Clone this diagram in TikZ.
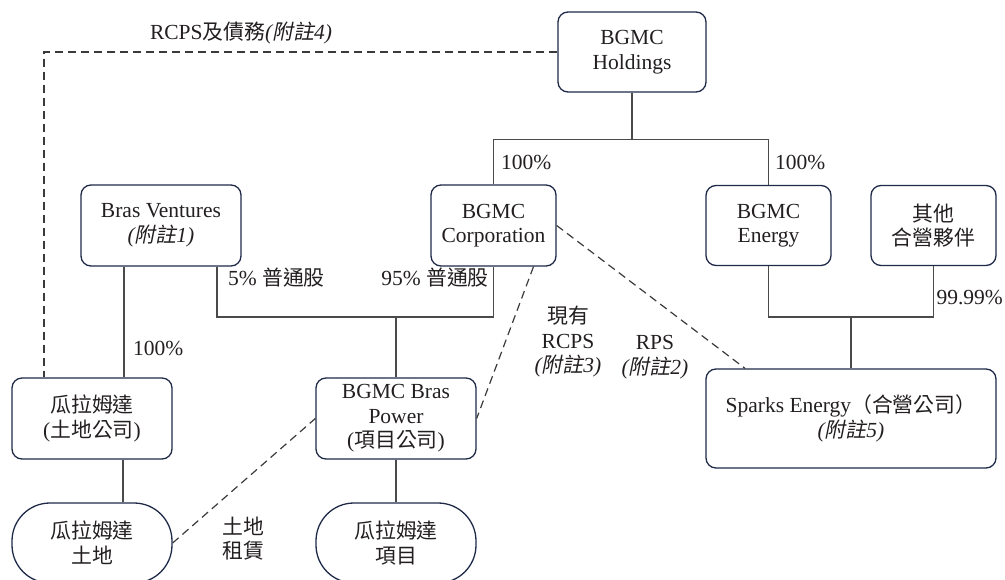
\documentclass[tikz,border=0pt]{standalone}
\usepackage{fontspec}
\setmainfont{Liberation Serif}
\newfontfamily\zhfont[Scale=0.97]{Noto Sans CJK TC}
\newfontfamily\zhitfont[Scale=0.97,FakeSlant=0.2]{Noto Sans CJK TC}
\newcommand{\zh}[1]{{\zhfont #1}}
\newcommand{\fnote}[1]{{\itshape(}{\zhitfont 附註}{\itshape #1)}}
\definecolor{navy}{HTML}{1E2A48}
\definecolor{conngray}{HTML}{4A4A4A}
\definecolor{dashgray}{HTML}{3A3A3A}
\definecolor{txt}{HTML}{231F20}
\tikzset{
  every node/.style={font=\fontsize{21.5}{24.5}\selectfont, text=txt},
  box/.style={draw=navy, line width=1.3pt, rounded corners=10pt, align=center, inner sep=0pt},
  stadium/.style={draw=navy, line width=1.3pt, rounded corners=38pt, align=center, inner sep=0pt,
    minimum width=160pt, minimum height=80pt},
  conn/.style={draw=conngray, line width=1.2pt},
  dsh/.style={draw=dashgray, line width=1.2pt, dash pattern=on 8pt off 5pt},
  lbl/.style={align=center, inner sep=0pt}
}
\begin{document}
\begin{tikzpicture}[x=1pt,y=-1pt]
\clip (0,0) rectangle (1005,580);
% boxes
\node[box, minimum width=148pt, minimum height=80pt] (hold) at (632,52) {BGMC\\Holdings};
\node[box, minimum width=160pt, minimum height=81pt] (brasv) at (161,225.5) {Bras Ventures\\\fnote{1}};
\node[box, minimum width=125pt, minimum height=81pt] (corp) at (493.5,225.5) {BGMC\\Corporation};
\node[box, minimum width=125pt, minimum height=80pt] (energy) at (768.5,225.5) {BGMC\\Energy};
\node[box, minimum width=125pt, minimum height=80pt] (jv) at (933.5,225.5) {\zh{其他}\\\zh{合營夥伴}};
\node[box, minimum width=160pt, minimum height=81pt] (landco) at (92,418.5) {\zh{瓜拉姆達}\\(\zh{土地公司})};
\node[box, minimum width=160pt, minimum height=81pt] (power) at (396,418.5) {BGMC Bras\\Power\\(\zh{項目公司})};
\node[box, minimum width=290pt, minimum height=99pt] (sparks) at (851,418.5) {Sparks Energy\zh{（合營公司）}\\\fnote{5}};
\node[stadium] (land) at (92,543) {\zh{瓜拉姆達}\\\zh{土地}};
\node[stadium] (proj) at (396,543) {\zh{瓜拉姆達}\\\zh{項目}};
% solid connectors
\draw[conn] (hold.south) -- ++(0,47) coordinate (hj);
\draw[conn] (corp.north) |- (hj) -| (energy.north);
\draw[conn] ([xshift=-37pt]brasv.south) -- ([xshift=-37pt]brasv.south |- landco.north);
\coordinate (bj) at (396,317);
\draw[conn] ([xshift=56pt]brasv.south) |- (bj) -| (corp.south);
\draw[conn] (bj) -- (power.north);
\coordinate (ej) at (851,317);
\draw[conn] (energy.south) |- (ej) -| (jv.south);
\draw[conn] (ej) -- (sparks.north);
\draw[conn] ([xshift=31pt]landco.south) -- ([xshift=31pt]land.north);
\draw[conn] (power.south) -- (proj.north);
% dashed connectors
\draw[dsh] (hold.west) -| ([xshift=-48pt]landco.north);
\draw[dsh] (corp.east) -- ([xshift=-106pt]sparks.north);
\draw[dsh] ([xshift=40pt]corp.south) -- (power.east);
\draw[dsh] (land.east) -- (power.west);
% labels
\node[lbl] (l4) at (241,33) {RCPS\zh{及債務}\fnote{4}};
\node[lbl, anchor=west] (p1) at (501,162) {100\%};
\node[lbl, anchor=west] (p2) at (775,162) {100\%};
\node[lbl, anchor=west] (p3) at (133,348) {100\%};
\node[lbl, anchor=west] (s5) at (228,278) {5\% \zh{普通股}};
\node[lbl, anchor=east] (s95) at (489,278) {95\% \zh{普通股}};
\node[lbl] (rcps) at (568,342) {\zh{現有}\\RCPS\\\fnote{3}};
\node[lbl] (rps) at (655,357) {RPS\\\fnote{2}};
\node[lbl, anchor=east] (p9) at (1003,298) {99.99\%};
\node[lbl] (lease) at (243,538.5) {\zh{土地}\\\zh{租賃}};
\end{tikzpicture}
\end{document}
